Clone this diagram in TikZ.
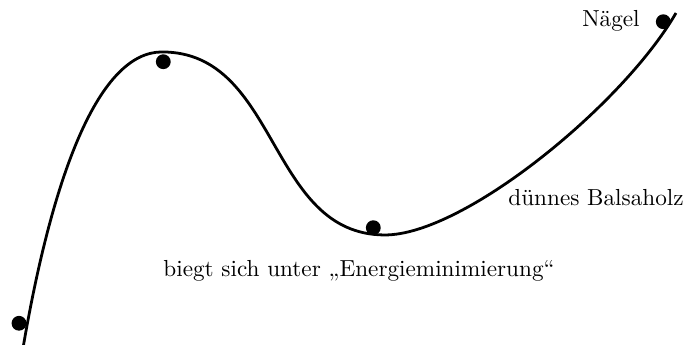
\documentclass[tikz,border=0pt]{standalone}
\usepackage{tikz}
\usetikzlibrary{positioning}

\tikzset{
  nagel/.style={circle, fill=black, inner sep=0pt, minimum size=6.4pt},
  latte/.style={very thick},
}

\begin{document}
\begin{tikzpicture}[font=\normalsize]
\useasboundingbox (0,0) rectangle (10.394,5.227);
% Balsaholz, durch die Naegel gebogen
\coordinate (anfang) at (0.348,-0.05);
\coordinate (gipfel) at (2.455,4.44);
\coordinate (tal) at (5.833,1.667);
\coordinate (ende) at (10.242,5.03);
\draw[latte] (anfang) .. controls (0.8,2.6) and (1.5,4.44) .. (gipfel)
  .. controls (4.235,4.44) and (4.053,1.667) .. (tal)
  .. controls (7.033,1.667) and (9.442,3.645) .. (ende);
% Naegel
\foreach \p/\n in {{0.288,0.329}/n1, {2.474,4.292}/n2, {5.656,1.777}/n3, {10.05,4.898}/n4}
  \node[nagel] (\n) at (\p) {};
\node[anchor=base east] (naegel) at (9.815,4.833) {Nägel};
\node[anchor=base west] (holz) at (7.579,2.106) {dünnes Balsaholz};
\node[anchor=base west] (biegt) at (2.352,1.045) {biegt sich unter „Energieminimierung“};
\end{tikzpicture}
\end{document}
